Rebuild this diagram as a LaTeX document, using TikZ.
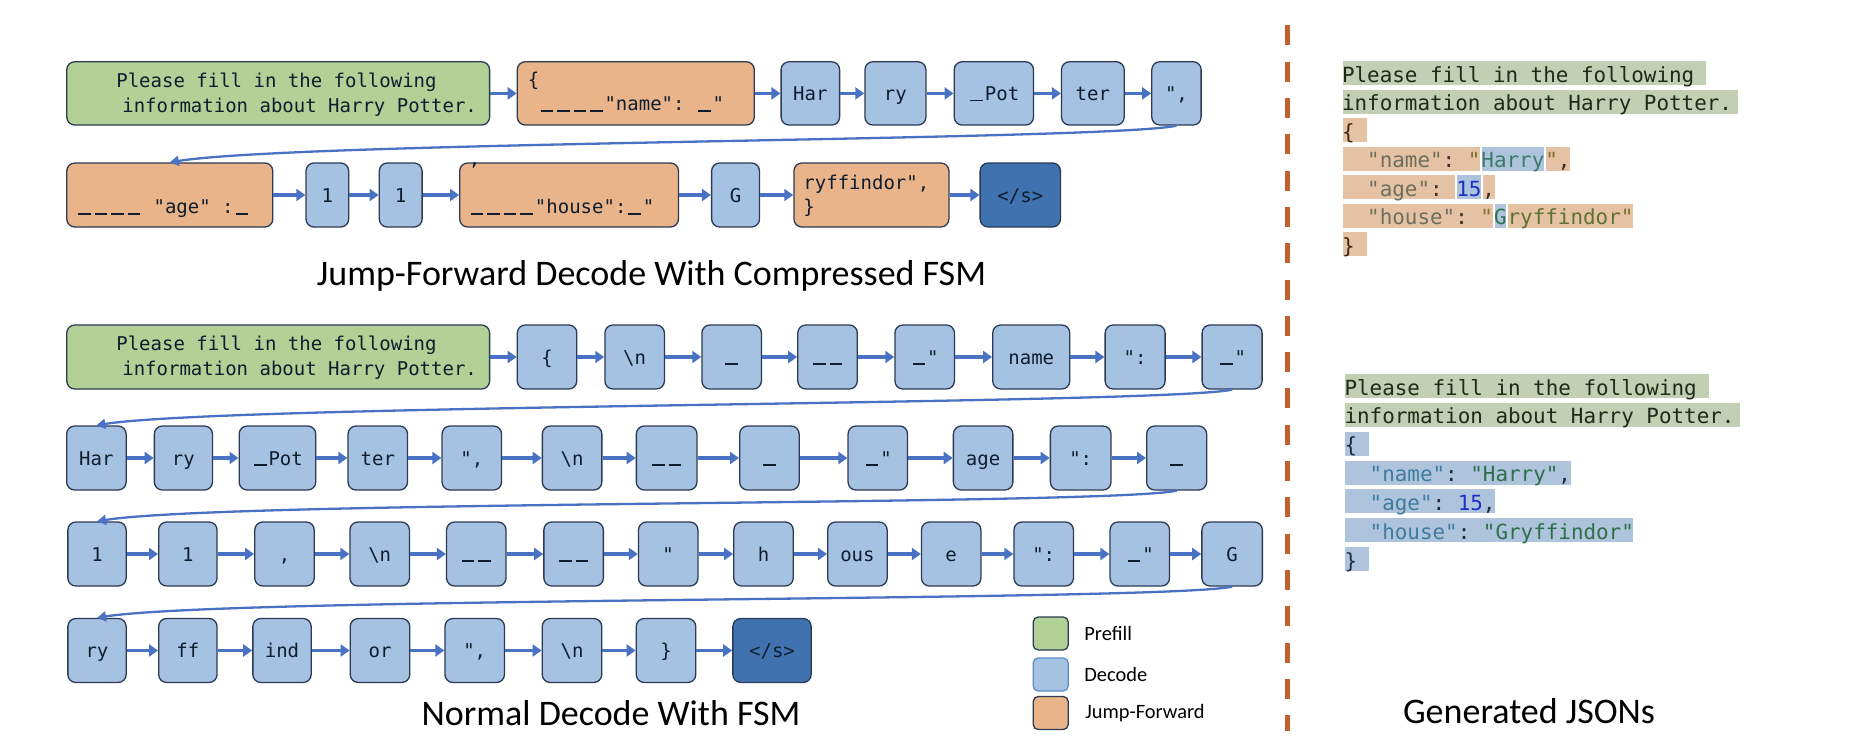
\documentclass[tikz,border=0pt]{standalone}
\usepackage{fontspec}
\setmainfont{Carlito}
\newfontfamily\tokfont{DejaVu Sans Mono}
\usetikzlibrary{positioning,
                calc,
                arrows.meta}
\definecolor{prefillgreen}{HTML}{B2D196}
\definecolor{decodeblue}{HTML}{A6C2E3}
\definecolor{jumporange}{HTML}{EAB48A}
\definecolor{endblue}{HTML}{3F72AF}
\definecolor{boxline}{HTML}{2C3A54}
\definecolor{legblue}{HTML}{5A8AC8}
\definecolor{tokink}{HTML}{0F1E2E}
\definecolor{flowblue}{HTML}{4A72C4}
\definecolor{splitline}{HTML}{BF6230}
\definecolor{hlgreen}{HTML}{C2CFB2}
\definecolor{hlorange}{HTML}{E5C2A4}
\definecolor{hlblue}{HTML}{AEC4DD}
\definecolor{jprompt}{HTML}{1E2A1A}
\definecolor{jdarkor}{HTML}{3A2E22}
\definecolor{jdarkbl}{HTML}{1C2C3C}
\definecolor{jbrace}{HTML}{3A2810}
\definecolor{jkey}{HTML}{6E6E60}
\definecolor{jquote}{HTML}{7D7030}
\definecolor{jval}{HTML}{3C7A6C}
\definecolor{jvalg}{HTML}{2E7450}
\definecolor{jryff}{HTML}{5F7233}
\definecolor{jnum}{HTML}{1F30C8}
\definecolor{jkeyb}{HTML}{3F7BA0}
\definecolor{jvalb}{HTML}{2E6F4A}
\tikzset{tok/.style = {draw=boxline, line width=1.3pt,
                     fill=decodeblue,
                     rounded corners=8pt,
                     minimum width=59.5pt, minimum height=64pt,
                     inner sep=2pt, text=tokink,
                     font=\tokfont\fontsize{19pt}{23pt}\selectfont,
                     text height=14pt, text depth=0pt
                    },
         prefill/.style = {tok, fill=prefillgreen},
         jump/.style = {tok, fill=jumporange},
         eos/.style = {tok, fill=endblue},
         toktext/.style = {anchor=base west, inner sep=0pt, text=tokink,
                     font=\tokfont\fontsize{19pt}{23pt}\selectfont
         },
         flow/.style = {draw=flowblue, line width=3.5pt,
                     -{Triangle[length=9pt,width=12pt]}
         },
         wrapflow/.style = {draw=flowblue, line width=2.3pt,
                     -{Triangle[length=9pt,width=10pt]}
         },
         hl/.style = {anchor=base west, inner xsep=0pt, inner ysep=0pt,
                     text height=21.7pt, text depth=3.3pt,
                     draw=white, line width=1pt,
                     font=\tokfont\fontsize{20.9pt}{25pt}\selectfont
         },
         hlgr/.style = {hl, fill=hlgreen, text=jprompt},
         hlor/.style = {hl, fill=hlorange, text=jdarkor},
         hlbl/.style = {hl, fill=hlblue, text=jdarkbl},
         heading/.style = {anchor=base, font=\fontsize{36pt}{40pt}\selectfont},
         legbox/.style = {draw=boxline, line width=1.3pt, rounded corners=5pt,
                     minimum width=35pt, minimum height=33pt, inner sep=0pt
         },
         legtext/.style = {font=\fontsize{20.4pt}{24pt}\selectfont}
        }
\newcommand{\us}{\makebox[16.5pt]{\rule[-1pt]{12.5pt}{1.7pt}}}
\newcommand{\bsl}{\textbackslash n}
\newcommand{\jsp}{\mbox{\ }}

\begin{document}
\begin{tikzpicture}[x=1pt,y=-1pt]
        \useasboundingbox (0,0) rectangle (1854,752);

        % jump-forward decode, first row
        \node[prefill, minimum width=422.8pt, minimum height=63.3pt] (tp) at (278.2,93.4) {};
        \node[jump, minimum width=237pt, minimum height=63.3pt, right=26.4pt of tp] (tj1) {};
        \node[tok, minimum width=58.5pt, minimum height=63.3pt, right=25.5pt of tj1] (thar) {Har};
        \node[tok, minimum width=61pt, minimum height=63.3pt, right=24pt of thar] (try) {ry};
        \node[tok, minimum width=79.3pt, minimum height=63.3pt, right=27pt of try] (tpot) {\us{}Pot};
        \node[tok, minimum width=62.7pt, minimum height=63.3pt, right=26.7pt of tpot] (tter) {ter};
        \node[tok, minimum width=49.3pt, minimum height=63.3pt, right=26.3pt of tter] (tcm) {",};

        \node[toktext] (tpl1) at ($(tp.north west)+(50,26.5)$) {Please fill in the following};
        \node[toktext] (tpl2) at ($(tp.north west)+(56,51.5)$) {information about Harry Potter.};
        \node[toktext] (tj1l1) at ($(tj1.north west)+(11,25.8)$) {\{};
        \node[toktext] (tj1l2) at ($(tj1.north west)+(21.7,49.8)$) {\us\us\us\us"name":\ \us"};

        % jump-forward decode, second row
        \node[jump, minimum width=206pt] (tj2) at (169.8,195) {};
        \node[tok, minimum width=42.7pt, right=31.9pt of tj2] (tdig1) {1};
        \node[tok, minimum width=42.8pt, right=29.3pt of tdig1] (tdig2) {1};
        \node[jump, minimum width=218.8pt, right=36.3pt of tdig2] (tj3) {};
        \node[tok, minimum width=47.9pt, right=31.8pt of tj3] (tg) {G};
        \node[jump, minimum width=155pt, right=33.1pt of tg] (tj4) {};
        \node[eos, minimum width=80.4pt, right=29.9pt of tj4] (teos) {</s>};

        \node[toktext] (tj2l) at ($(tj2.north west)+(9.8,51.3)$) {\us\us\us\us\ "age"\ :\us};
        \node[toktext] (tj3l1) at ($(tj3.north west)+(9.7,3.5)$) {,};
        \node[toktext] (tj3l2) at ($(tj3.north west)+(9.7,51.3)$) {\us\us\us\us"house":\us"};
        \node[toktext] (tj4l1) at ($(tj4.north west)+(10,27.3)$) {ryffindor",};
        \node[toktext] (tj4l2) at ($(tj4.north west)+(10,51.3)$) {\}};

        % normal decode, first row
        \node[prefill, minimum width=422.8pt] (bp) at (278.2,357) {};
        \node[tok, right=26.4pt of bp] (bbrace) {\{};
        \node[tok, right=26.8pt of bbrace] (bnl1) {\bsl};
        \node[tok, right=36.2pt of bnl1] (bsp1) {\us};
        \node[tok, right=35.1pt of bsp1] (bsp2) {\us\us};
        \node[tok, right=36.3pt of bsp2] (bq1) {\us"};
        \node[tok, minimum width=77.1pt, right=37pt of bq1] (bname) {name};
        \node[tok, minimum width=60pt, right=34pt of bname] (bcolon1) {":};
        \node[tok, minimum width=60pt, right=35.7pt of bcolon1] (bq2) {\us"};

        \node[toktext] (bpl1) at ($(bp.north west)+(50,26.5)$) {Please fill in the following};
        \node[toktext] (bpl2) at ($(bp.north west)+(56,51.5)$) {information about Harry Potter.};

        % normal decode, second row
        \node[tok] (bhar) at (96.4,458) {Har};
        \node[tok, minimum width=58.1pt, right=26.9pt of bhar] (bry) {ry};
        \node[tok, minimum width=76.6pt, right=25.4pt of bry] (bpot) {\us{}Pot};
        \node[tok, right=31pt of bpot] (bter) {ter};
        \node[tok, right=33.2pt of bter] (bcm1) {",};
        \node[tok, right=39.5pt of bcm1] (bnl2) {\bsl};
        \node[tok, minimum width=60.6pt, right=33.2pt of bnl2] (bsp3) {\us\us};
        \node[tok, right=41.4pt of bsp3] (bsp4) {\us};
        \node[tok, right=47.6pt of bsp4] (bq3) {\us"};
        \node[tok, right=44.5pt of bq3] (bage) {age};
        \node[tok, minimum width=60.7pt, right=36.2pt of bage] (bcolon2) {":};
        \node[tok, minimum width=60pt, right=34.3pt of bcolon2] (bsp5) {\us};

        % normal decode, third row
        \node[tok, minimum width=58.3pt] (bdig1) at (97,554) {1};
        \node[tok, minimum width=58.4pt, right=31.2pt of bdig1] (bdig2) {1};
        \node[tok, right=36.4pt of bdig2] (bcm2) {,};
        \node[tok, right=34.4pt of bcm2] (bnl3) {\bsl};
        \node[tok, right=35.8pt of bnl3] (bsp6) {\us\us};
        \node[tok, right=36.5pt of bsp6] (bsp7) {\us\us};
        \node[tok, right=33.8pt of bsp7] (bq4) {"};
        \node[tok, right=34.5pt of bq4] (bh) {h};
        \node[tok, right=33.1pt of bh] (bous) {ous};
        \node[tok, right=33pt of bous] (be) {e};
        \node[tok, right=31.7pt of be] (bcolon3) {":};
        \node[tok, right=35.3pt of bcolon3] (bq5) {\us"};
        \node[tok, minimum width=60.5pt, right=31pt of bq5] (bg) {G};

        % normal decode, fourth row
        \node[tok, minimum width=58.3pt] (bry2) at (97,650.5) {ry};
        \node[tok, minimum width=58.4pt, right=31.2pt of bry2] (bff) {ff};
        \node[tok, minimum width=58.3pt, right=34.5pt of bff] (bind) {ind};
        \node[tok, right=37.8pt of bind] (bor) {or};
        \node[tok, right=33.9pt of bor] (bcm3) {",};
        \node[tok, right=36.5pt of bcm3] (bnl4) {\bsl};
        \node[tok, right=33.2pt of bnl4] (bclose) {\}};
        \node[eos, minimum width=78.3pt, right=35.8pt of bclose] (beos) {</s>};

        \foreach \a/\b in {tp/tj1, tj1/thar, thar/try, try/tpot, tpot/tter, tter/tcm,
                           tj2/tdig1, tdig1/tdig2, tdig2/tj3, tj3/tg, tg/tj4, tj4/teos,
                           bp/bbrace, bbrace/bnl1, bnl1/bsp1, bsp1/bsp2, bsp2/bq1,
                           bq1/bname, bname/bcolon1, bcolon1/bq2,
                           bhar/bry, bry/bpot, bpot/bter, bter/bcm1, bcm1/bnl2, bnl2/bsp3,
                           bsp3/bsp4, bsp4/bq3, bq3/bage, bage/bcolon2, bcolon2/bsp5,
                           bdig1/bdig2, bdig2/bcm2, bcm2/bnl3, bnl3/bsp6, bsp6/bsp7,
                           bsp7/bq4, bq4/bh, bh/bous, bous/be, be/bcolon3, bcolon3/bq5, bq5/bg,
                           bry2/bff, bff/bind, bind/bor, bor/bcm3, bcm3/bnl4, bnl4/bclose,
                           bclose/beos}
            \draw[flow] (\a) -- (\b);

        % line breaks
        \draw[wrapflow] (tcm.south) .. controls ($(tcm.south)+(-70,15)$) and ($(tj2.north)+(130,-21)$) .. (tj2.north);
        \draw[wrapflow] (bq2.south) .. controls ($(bq2.south)+(-70,15)$) and ($(bhar.north)+(130,-21)$) .. (bhar.north);
        \draw[wrapflow] (bsp5.south) .. controls ($(bsp5.south)+(-70,15)$) and ($(bdig1.north)+(130,-21)$) .. (bdig1.north);
        \draw[wrapflow] (bg.south) .. controls ($(bg.south)+(-70,15)$) and ($(bry2.north)+(130,-21)$) .. (bry2.north);

        \node[heading] (tjtitle) at (651.5,285) {Jump-Forward Decode With Compressed FSM};
        \node[heading] (bntitle) at (611,725) {Normal Decode With FSM};

        % legend
        \node[legbox, fill=prefillgreen] (lgpre) at (1050.7,633.5) {};
        \node[legbox, fill=decodeblue, draw=legblue] (lgdec) at (1050.7,674.5) {};
        \node[legbox, fill=jumporange] (lgjmp) at (1050.7,713) {};
        \node[legtext, right=12pt of lgpre] (lgpret) {Prefill};
        \node[legtext, right=12pt of lgdec] (lgdect) {Decode};
        \node[legtext, right=13pt of lgjmp] (lgjmpt) {Jump-Forward};

        \draw[splitline, line width=5pt, dash pattern=on 20pt off 16.3pt] (1287,25.4) -- (1287,731);

        % generated json, jump-forward
        \node[hlgr] (ja1) at (1341.5,82.4) {Please fill in the following\jsp};
        \node[hlgr] (ja2) at (1341.5,110.9) {information about Harry Potter.\hspace*{6pt}};
        \node[hlor] (ja3) at (1341.5,139.4) {\textcolor{jbrace}{\{}\jsp};
        \node[hlor] (ja4) at (1341.5,167.9) {\ \ \textcolor{jkey}{"name"}:\ \textcolor{jquote}{"}};
        \node[hlbl] (jb4) at (ja4.base east) {\textcolor{jval}{Harry}};
        \node[hlor] (jc4) at (jb4.base east) {\textcolor{jquote}{"},};
        \node[hlor] (ja5) at (1341.5,196.4) {\ \ \textcolor{jkey}{"age"}:\jsp};
        \node[hlbl] (jb5) at (ja5.base east) {\textcolor{jnum}{15}};
        \node[hlor] (jc5) at (jb5.base east) {,};
        \node[hlor] (ja6) at (1341.5,224.9) {\ \ \textcolor{jkey}{"house"}:\ \textcolor{jquote}{"}};
        \node[hlbl] (jb6) at (ja6.base east) {\textcolor{jvalg}{G}};
        \node[hlor] (jc6) at (jb6.base east) {\textcolor{jryff}{ryffindor}\textcolor{jquote}{"}};
        \node[hlor] (ja7) at (1341.5,253.4) {\textcolor{jbrace}{\}}\jsp};

        % generated json, normal
        \node[hlgr] (jd1) at (1344,395) {Please fill in the following\jsp};
        \node[hlgr] (jd2) at (1344,423.9) {information about Harry Potter.\hspace*{6pt}};
        \node[hlbl] (jd3) at (1344,452.8) {\{\jsp};
        \node[hlbl] (jd4) at (1344,481.7) {\ \ \textcolor{jkeyb}{"name"}:\ \textcolor{jvalb}{"Harry"},};
        \node[hlbl] (jd5) at (1344,510.6) {\ \ \textcolor{jkeyb}{"age"}:\ \textcolor{jnum}{15},};
        \node[hlbl] (jd6) at (1344,539.5) {\ \ \textcolor{jkeyb}{"house"}:\ \textcolor{jvalb}{"Gryffindor"}};
        \node[hlbl] (jd7) at (1344,568.4) {\}\jsp};

        \node[heading] (gjtitle) at (1529,723) {Generated JSONs};
    \end{tikzpicture}
\end{document}
